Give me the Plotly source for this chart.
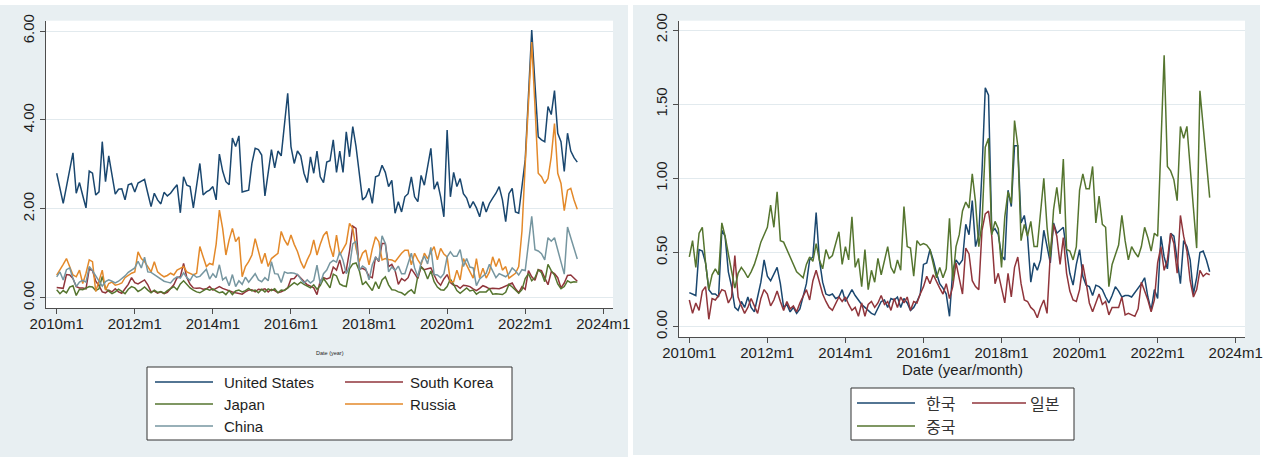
import plotly.graph_objects as go

W, H = 1269, 457

# Monthly series, 2010m1 .. 2023m5 (161 observations)
START_YEAR = 2010
N_MONTHS = 161
months = [f"{START_YEAR + i // 12}m{i % 12 + 1}" for i in range(N_MONTHS)]
t = list(range(N_MONTHS))  # Stata-style %tm offset from 2010m1

tick_vals = [0, 24, 48, 72, 96, 120, 144, 168]
tick_text = ["2010m1", "2012m1", "2014m1", "2016m1", "2018m1", "2020m1", "2022m1", "2024m1"]

left_y_ticks = [0, 2, 4, 6]
left_y_text = ["0.00", "2.00", "4.00", "6.00"]
right_y_ticks = [0, 0.5, 1.0, 1.5, 2.0]
right_y_text = ["0.00", "0.50", "1.00", "1.50", "2.00"]

united_states = [
    2.80, 2.45, 2.12, 2.50, 2.90, 3.26, 2.35, 2.59, 2.30, 2.02,
    2.85, 2.80, 2.31, 2.38, 3.51, 2.61, 3.19, 2.75, 2.33, 2.44,
    2.45, 2.20, 2.54, 2.57, 2.38, 2.58, 2.62, 2.66, 2.35, 2.05,
    2.35, 2.20, 2.11, 2.37, 2.29, 2.35, 2.45, 2.54, 1.91, 2.72,
    2.53, 2.50, 2.02, 2.50, 3.02, 2.31, 2.38, 2.42, 2.50, 2.20,
    3.23, 2.85, 2.61, 2.54, 3.59, 3.40, 3.64, 2.38, 2.40, 2.42,
    3.02, 3.36, 3.33, 3.21, 2.29, 2.80, 3.33, 2.92, 3.30, 3.19,
    3.96, 4.60, 3.40, 3.02, 3.30, 3.19, 2.80, 2.59, 3.17, 2.80,
    3.30, 2.72, 2.59, 3.05, 3.08, 3.55, 2.82, 3.30, 2.82, 3.73,
    3.17, 3.85, 3.40, 2.80, 2.20, 2.27, 2.46, 2.12, 2.72, 2.75,
    2.98, 2.82, 2.50, 2.64, 1.90, 2.16, 1.93, 2.27, 2.34, 2.72,
    2.27, 2.16, 2.75, 2.53, 2.95, 3.36, 2.44, 2.61, 2.27, 1.82,
    3.77, 2.27, 2.82, 2.50, 2.68, 2.34, 2.24, 2.02, 2.16, 2.02,
    1.82, 2.16, 1.93, 2.12, 2.24, 2.35, 2.50, 2.20, 1.71, 2.34,
    2.46, 1.93, 1.90, 2.50, 3.10, 4.55, 6.02, 4.80, 3.62, 3.55,
    3.51, 4.30, 4.12, 4.66, 3.70, 3.51, 2.84, 3.70, 3.30, 3.15,
    3.05,
]

russia = [
    0.51, 0.62, 0.75, 0.88, 0.70, 0.51, 0.47, 0.62, 0.32, 0.55,
    0.85, 0.81, 0.14, 0.36, 0.62, 0.17, 0.32, 0.35, 0.28, 0.30,
    0.33, 0.45, 0.51, 0.55, 0.58, 1.03, 0.88, 0.81, 0.70, 0.58,
    0.81, 0.58, 0.52, 0.47, 0.50, 0.55, 0.51, 0.62, 0.66, 0.70,
    0.58, 0.55, 0.51, 0.55, 1.15, 0.92, 0.70, 0.77, 0.74, 1.20,
    1.97, 1.56, 0.96, 1.30, 1.56, 1.26, 1.37, 0.47, 0.70, 0.81,
    0.96, 1.33, 1.04, 0.77, 1.00, 0.70, 0.88, 0.94, 1.00, 1.49,
    1.30, 1.18, 1.41, 1.20, 1.04, 0.81, 0.66, 0.85, 1.00, 1.30,
    0.96, 1.20, 1.40, 1.49, 1.15, 0.92, 1.41, 0.96, 1.10, 1.22,
    1.67, 1.56, 1.11, 0.81, 1.00, 1.07, 0.74, 1.10, 1.37, 1.26,
    0.85, 0.88, 0.86, 0.85, 0.81, 0.92, 1.00, 1.07, 1.07, 0.74,
    1.00, 0.85, 0.74, 1.00, 0.88, 1.02, 1.15, 0.85, 1.11, 0.98,
    0.92, 0.36, 0.36, 0.62, 0.40, 0.88, 0.74, 0.60, 0.44, 0.88,
    0.44, 0.66, 0.44, 0.58, 0.92, 0.70, 0.88, 0.62, 0.70, 0.44,
    0.50, 0.55, 0.70, 1.50, 3.00, 4.40, 5.75, 4.30, 2.80, 2.72,
    2.57, 2.68, 3.17, 3.92, 2.80, 2.57, 1.96, 2.42, 2.46, 2.20,
    1.99,
]

korea = [
    0.23, 0.22, 0.21, 0.52, 0.51, 0.43, 0.25, 0.22, 0.22, 0.20,
    0.65, 0.61, 0.37, 0.27, 0.13, 0.11, 0.17, 0.13, 0.20, 0.13,
    0.10, 0.20, 0.30, 0.45, 0.34, 0.31, 0.36, 0.40, 0.29, 0.13,
    0.15, 0.10, 0.13, 0.09, 0.12, 0.20, 0.29, 0.45, 0.47, 0.77,
    0.45, 0.30, 0.22, 0.21, 0.22, 0.19, 0.20, 0.25, 0.17, 0.21,
    0.25, 0.21, 0.18, 0.15, 0.13, 0.11, 0.09, 0.08, 0.13, 0.17,
    0.18, 0.13, 0.19, 0.18, 0.20, 0.13, 0.19, 0.16, 0.11, 0.13,
    0.17, 0.22, 0.42, 0.43, 0.52, 0.45, 0.36, 0.29, 0.26, 0.22,
    0.07, 0.38, 0.45, 0.42, 0.45, 0.69, 0.62, 0.85, 0.54, 0.62,
    1.05, 1.61, 1.56, 0.64, 0.66, 0.62, 0.48, 0.45, 0.92, 0.81,
    1.22, 1.22, 0.70, 0.75, 0.61, 0.30, 0.43, 0.38, 0.45, 0.65,
    0.54, 0.43, 0.70, 0.63, 0.65, 0.67, 0.51, 0.36, 0.28, 0.42,
    0.52, 0.34, 0.28, 0.27, 0.21, 0.28, 0.27, 0.25, 0.20, 0.16,
    0.21, 0.27, 0.24, 0.20, 0.21, 0.21, 0.20, 0.23, 0.26, 0.29,
    0.33, 0.20, 0.11, 0.25, 0.19, 0.61, 0.47, 0.39, 0.63, 0.61,
    0.45, 0.29, 0.58, 0.54, 0.45, 0.22, 0.33, 0.50, 0.51, 0.45,
    0.37,
]

japan = [
    0.18, 0.09, 0.16, 0.11, 0.24, 0.27, 0.05, 0.19, 0.18, 0.21,
    0.25, 0.24, 0.16, 0.20, 0.48, 0.20, 0.14, 0.09, 0.13, 0.19,
    0.14, 0.09, 0.19, 0.25, 0.22, 0.14, 0.18, 0.24, 0.17, 0.11,
    0.17, 0.12, 0.14, 0.10, 0.16, 0.20, 0.25, 0.18, 0.31, 0.38,
    0.29, 0.22, 0.17, 0.13, 0.11, 0.16, 0.20, 0.17, 0.20, 0.15,
    0.11, 0.13, 0.07, 0.16, 0.07, 0.15, 0.17, 0.13, 0.16, 0.21,
    0.15, 0.17, 0.11, 0.19, 0.13, 0.20, 0.16, 0.20, 0.11, 0.17,
    0.16, 0.22, 0.27, 0.34, 0.29, 0.35, 0.30, 0.26, 0.22, 0.29,
    0.19, 0.27, 0.43, 0.33, 0.22, 0.53, 0.49, 0.31, 0.27, 0.25,
    0.65, 0.76, 0.78, 0.61, 0.29, 0.36, 0.27, 0.16, 0.36, 0.20,
    0.40, 0.47, 0.29, 0.18, 0.17, 0.13, 0.11, 0.06, 0.13, 0.18,
    0.09, 0.49, 0.69, 0.61, 0.42, 0.60, 0.36, 0.24, 0.18, 0.17,
    0.25, 0.42, 0.30, 0.16, 0.10, 0.16, 0.22, 0.15, 0.17, 0.08,
    0.13, 0.13, 0.13, 0.20, 0.08, 0.09, 0.08, 0.07, 0.12, 0.30,
    0.24, 0.18, 0.10, 0.18, 0.43, 0.54, 0.38, 0.45, 0.63, 0.56,
    0.36, 0.75, 0.61, 0.51, 0.31, 0.20, 0.25, 0.38, 0.34, 0.36,
    0.35,
]

china = [
    0.47, 0.58, 0.40, 0.63, 0.67, 0.43, 0.25, 0.35, 0.39, 0.35,
    0.70, 0.61, 0.49, 0.38, 0.26, 0.36, 0.40, 0.37, 0.33, 0.37,
    0.42, 0.49, 0.57, 0.62, 0.67, 0.82, 0.67, 0.91, 0.58, 0.57,
    0.52, 0.47, 0.42, 0.37, 0.35, 0.33, 0.42, 0.47, 0.44, 0.56,
    0.45, 0.39, 0.52, 0.46, 0.48, 0.56, 0.64, 0.42, 0.54, 0.45,
    0.74, 0.40, 0.46, 0.27, 0.52, 0.25, 0.38, 0.30, 0.46, 0.35,
    0.45, 0.54, 0.40, 0.36, 0.45, 0.38, 0.81, 0.54, 0.53, 0.34,
    0.58, 0.55, 0.56, 0.55, 0.52, 0.43, 0.33, 0.40, 0.33, 0.39,
    0.73, 0.31, 0.54, 0.62, 0.78, 0.84, 0.80, 1.03, 0.84, 0.54,
    0.70, 1.21, 1.27, 0.62, 0.71, 0.66, 0.40, 0.74, 0.91, 0.83,
    1.39, 1.22, 0.58, 0.69, 0.61, 0.71, 0.54, 0.54, 0.79, 1.00,
    0.67, 0.47, 0.79, 0.94, 0.76, 1.13, 0.52, 0.51, 0.45, 0.54,
    0.92, 1.03, 0.93, 0.93, 1.08, 0.70, 0.88, 0.69, 0.67, 0.27,
    0.42, 0.48, 0.55, 0.75, 0.58, 0.45, 0.54, 0.50, 0.47, 0.54,
    0.67, 0.60, 0.51, 0.63, 0.61, 1.22, 1.83, 1.08, 1.05, 0.99,
    0.85, 1.35, 1.27, 1.35, 1.10, 0.80, 0.53, 1.59, 1.35, 1.10,
    0.87,
]

# Stata s2color palette
NAVY = "#1a476f"
MAROON = "#90353b"
FOREST = "#55752f"
ORANGE = "#e3892a"
TEAL = "#7696a0"

GRAPH_BG = "#e8eff2"
GRID = "#e2eaee"
AXIS = "#4d4d4d"
TEXT = "#1e1e1e"
LATIN = "Liberation Sans, Arial, sans-serif"
HANGUL = "Noto Sans CJK KR, sans-serif"

left_series = [
    ("United States", united_states, NAVY),
    ("South Korea", korea, MAROON),
    ("Japan", japan, FOREST),
    ("Russia", russia, ORANGE),
    ("China", china, TEAL),
]
right_series = [
    ("한국", korea, NAVY),
    ("일본", japan, MAROON),
    ("중국", china, FOREST),
]


def fx(px):
    return px / W


def fy(py):
    return 1 - py / H


fig = go.Figure()

for name, vals, col in left_series:
    fig.add_trace(go.Scatter(x=t, y=vals, mode="lines", name=name, text=months,
                             line=dict(color=col, width=1.5),
                             xaxis="x", yaxis="y", showlegend=False))
for name, vals, col in right_series:
    fig.add_trace(go.Scatter(x=t, y=vals, mode="lines", name=name, text=months,
                             line=dict(color=col, width=1.5),
                             xaxis="x2", yaxis="y2", showlegend=False))

xcommon = dict(tickmode="array", tickvals=tick_vals, ticktext=tick_text,
               showgrid=False, zeroline=False, showline=True, linecolor=AXIS,
               linewidth=1, ticks="outside", ticklen=5, tickcolor=AXIS,
               automargin=False, ticklabelstandoff=-3,
               tickfont=dict(family=LATIN, size=15, color=TEXT))
ycommon = dict(tickmode="array", showgrid=True, gridcolor=GRID, gridwidth=1,
               zeroline=False, showline=True, linecolor=AXIS, linewidth=1,
               ticks="outside", ticklen=5, tickcolor=AXIS, tickangle=-90,
               automargin=False,
               tickfont=dict(family=LATIN, size=15, color=TEXT))

fig.update_layout(
    width=W, height=H,
    margin=dict(l=0, r=0, t=0, b=0, autoexpand=False),
    paper_bgcolor=GRAPH_BG,
    plot_bgcolor="white",
    showlegend=False,
    xaxis=dict(domain=[fx(46), fx(613)], range=[-3.29, 170.98], anchor="y", **xcommon),
    yaxis=dict(domain=[fy(308), fy(20.7)], range=[-0.232, 6.232], anchor="x",
               tickvals=left_y_ticks, ticktext=left_y_text, **ycommon),
    xaxis2=dict(domain=[fx(679), fx(1245)], range=[-3.17, 170.86], anchor="y2", **xcommon),
    yaxis2=dict(domain=[fy(337.3), fy(20.7)], range=[-0.0715, 2.0627], anchor="x2",
                tickvals=right_y_ticks, ticktext=right_y_text, **ycommon),
)

white_strip = dict(type="rect", xref="paper", yref="paper", fillcolor="white",
                   line=dict(width=0), layer="below")
shapes = [
    # white gutters around the two graph regions
    dict(white_strip, x0=0, x1=1, y0=fy(5), y1=1),
    dict(white_strip, x0=fx(628), x1=fx(633), y0=0, y1=1),
    dict(white_strip, x0=fx(1260), x1=1, y0=0, y1=1),
    dict(white_strip, x0=fx(633), x1=1, y0=0, y1=fy(455)),
    # legend boxes
    dict(type="rect", xref="paper", yref="paper", x0=fx(147), x1=fx(512), y0=fy(440), y1=fy(367),
         fillcolor="white", line=dict(color="#333333", width=1)),
    dict(type="rect", xref="paper", yref="paper", x0=fx(851), x1=fx(1074), y0=fy(440), y1=fy(388),
         fillcolor="white", line=dict(color="#333333", width=1)),
]
annotations = []

# left legend: two columns, three rows
left_rows = [382, 404, 426]
left_cols = [(155, 213, 222), (345, 403, 408)]
for i, (name, _, col) in enumerate(left_series):
    r, c = divmod(i, 2)
    x0, x1, xt = left_cols[c]
    y = left_rows[r]
    shapes.append(dict(type="line", xref="paper", yref="paper", x0=fx(x0), x1=fx(x1),
                       y0=fy(y), y1=fy(y), line=dict(color=col, width=1.5)))
    annotations.append(dict(x=fx(xt), y=fy(y), xref="paper", yref="paper", text=name,
                            showarrow=False, xanchor="left", yanchor="middle",
                            font=dict(family=LATIN, size=15, color=TEXT)))

# right legend: two columns, two rows
right_rows = [403, 426]
right_cols = [(857, 915, 924), (972, 1026, 1028)]
for i, (name, _, col) in enumerate(right_series):
    r, c = divmod(i, 2)
    x0, x1, xt = right_cols[c]
    y = right_rows[r]
    shapes.append(dict(type="line", xref="paper", yref="paper", x0=fx(x0), x1=fx(x1),
                       y0=fy(y), y1=fy(y), line=dict(color=col, width=1.5)))
    annotations.append(dict(x=fx(xt), y=fy(y), xref="paper", yref="paper", text=name,
                            showarrow=False, xanchor="left", yanchor="middle",
                            font=dict(family=HANGUL, size=16, color="#333333")))

# axis titles
annotations.append(dict(x=fx(330), y=fy(353), xref="paper", yref="paper", text="Date (year)",
                        showarrow=False, xanchor="center", yanchor="middle",
                        font=dict(family=LATIN, size=5.5, color=TEXT)))
annotations.append(dict(x=fx(962), y=fy(369), xref="paper", yref="paper", text="Date (year/month)",
                        showarrow=False, xanchor="center", yanchor="middle",
                        font=dict(family=LATIN, size=15, color=TEXT)))

fig.update_layout(shapes=shapes, annotations=annotations)

fig.write_html("out.html")
